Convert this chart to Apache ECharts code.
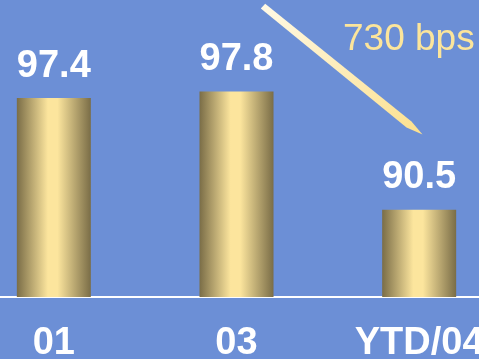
<!DOCTYPE html>
<html>
<head>
<meta charset="utf-8">
<script src="https://cdn.jsdelivr.net/npm/echarts@6/dist/echarts.min.js"></script>
<style>
  html, body { margin: 0; padding: 0; background: #6C8FD6; }
  #chart { width: 479px; height: 359px; }
</style>
</head>
<body>
<div id="chart"></div>
<script>
// Period labels and the ratio for each period
const categories = ['01', '03', 'YTD/04'];
const ratios = [97.4, 97.8, 90.5];
// Drop between 03 and YTD/04, in basis points
const changeLabel = '730 bps';

const gold = new echarts.graphic.LinearGradient(0, 0, 1, 0, [
  { offset: 0, color: '#7A6D47' },
  { offset: 0.42, color: '#FCE59D' },
  { offset: 0.55, color: '#FCE59D' },
  { offset: 1, color: '#7A6D47' }
]);

const chart = echarts.init(document.getElementById('chart'), null, { renderer: 'canvas' });

const labelFont = {
  fontFamily: '"Liberation Sans", Arial, sans-serif',
  fontWeight: 'bold',
  fontSize: 38,
  color: '#FFFFFF'
};

chart.setOption({
  backgroundColor: '#6C8FD6',
  animation: false,
  // the plot runs past both edges so the outer bars sit near the border
  grid: {
    left: -37.5, right: -31.5, top: 56, bottom: 62,
    containLabel: false, outerBoundsMode: 'none'
  },
  xAxis: {
    type: 'category',
    data: categories,
    axisTick: { show: false },
    axisLine: { lineStyle: { color: '#FFFFFF', width: 2 } },
    axisLabel: Object.assign({ margin: 28, interval: 0 }, labelFont)
  },
  yAxis: {
    type: 'value',
    min: 85.1,
    max: 100,
    show: false,
    splitLine: { show: false }
  },
  series: [{
    type: 'bar',
    data: ratios,
    barWidth: 74,
    itemStyle: { color: gold },
    label: Object.assign({
      show: true,
      position: 'top',
      distance: 13,
      formatter: p => p.value.toFixed(1)
    }, labelFont)
  }],
  graphic: [
    {
      // pointer from the 03 level down to the YTD/04 level
      type: 'polygon',
      shape: {
        points: [
          [260.8, 8.5], [265.2, 3.8],
          [411.5, 121.5], [422.5, 134.5], [406.5, 127.5]
        ]
      },
      style: {
        fill: new echarts.graphic.LinearGradient(0, 0, 1, 1, [
          { offset: 0, color: '#FFF9E6' },
          { offset: 1, color: '#FCE08E' }
        ])
      }
    },
    {
      type: 'text',
      left: 343,
      top: 21,
      style: {
        text: changeLabel,
        fill: '#FCE59B',
        font: '37px "Liberation Sans", Arial, sans-serif'
      }
    }
  ]
});
</script>
</body>
</html>
